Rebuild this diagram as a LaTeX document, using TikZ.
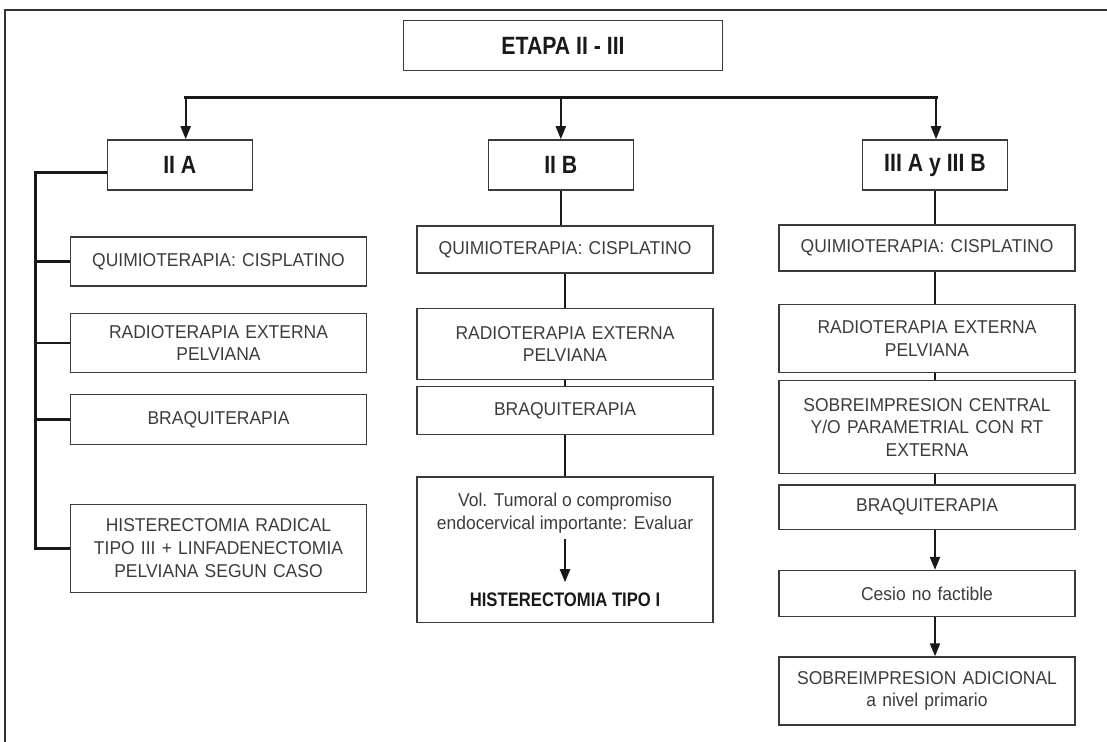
\documentclass[tikz,border=0pt]{standalone}
\usepackage{fontspec}
\setmainfont{Liberation Sans}
\newfontfamily\stepfont{Liberation Sans}[FakeStretch=0.94]
\newfontfamily\headfont{Liberation Sans}[FakeStretch=0.85]
\usepackage{tikz}
\usetikzlibrary{arrows.meta}
\usetikzlibrary{positioning}
\definecolor{boxgray}{HTML}{3A3A3A}
\definecolor{txtgray}{HTML}{3C3C3C}
\tikzstyle{headbox} = [draw=boxgray, line width=0.8pt, inner sep=0pt,
minimum height=25pt, font=\headfont\bfseries\fontsize{12.5}{14}\selectfont, text=black!90]
\tikzstyle{stepbox} = [draw=boxgray, line width=0.7pt, inner xsep=3pt, inner ysep=0pt,
text width=142pt, align=center, font=\stepfont\fontsize{9.3}{11.35}\selectfont, text=txtgray]

\begin{document}
\begin{tikzpicture}[x=0.5pt, y=-0.5pt]

\tikzstyle{link} = [line width=1pt, draw=black!90]
\tikzstyle{arrow} = [link, -{Triangle[length=6.5pt, width=5pt]}]

\useasboundingbox (0,0) rectangle (1107,742);

% frame
\coordinate (frametr) at (1107,10);
\coordinate (framebl) at (5,742);
\draw[line width=1pt, draw=black!80] (frametr) -| (framebl);

\node[headbox, minimum width=159.5pt] (etapa) at (563,45.7) {ETAPA II - III};
\node[headbox, minimum width=72.5pt] (iia) at (179.8,165) {II A};
\node[headbox, minimum width=72.5pt] (iib) at (560.8,165) {II B};
\node[headbox, minimum width=72.5pt] (iii) at (935,165) {III A y III B};

\coordinate (busl) at (185.7,97.7);
\coordinate (busr) at (936,97.7);
\draw[link, line width=1.6pt, line cap=rect] (busl) -- (busr);
\draw[arrow] (busl) -- (busl |- iia.north);
\draw[arrow] (iib.north |- busl) -- (iib.north);
\draw[arrow] (busr) -- (busr |- iii.north);

% II A
\node[stepbox, minimum height=24.5pt] (a1) at (218.5,261.5) {QUIMIOTERAPIA: CISPLATINO};
\node[stepbox, minimum height=29.5pt, below=13pt of a1] (a2) {RADIOTERAPIA EXTERNA\\PELVIANA};
\node[stepbox, minimum height=25pt, below=10.5pt of a2] (a3) {BRAQUITERAPIA};
\node[stepbox, minimum height=44pt, below=29pt of a3] (a4) {HISTERECTOMIA RADICAL\\TIPO III + LINFADENECTOMIA\\PELVIANA SEGUN CASO};

\coordinate (spine) at (35.7,172.3);
\draw[link, line width=1.3pt] (iia.west |- spine) -- (spine) |- (a4.west);
\foreach \n in {a1,a2,a3}
  \draw[link, line width=1.3pt] (spine |- \n.west) -- (\n.west);

% II B
\node[stepbox, minimum height=23.5pt] (b1) at (565,249.5) {QUIMIOTERAPIA: CISPLATINO};
\node[stepbox, minimum height=35.5pt, below=17pt of b1] (b2) {RADIOTERAPIA EXTERNA\\PELVIANA};
\node[stepbox, minimum height=24pt, below=3pt of b2] (b3) {BRAQUITERAPIA};
\node[stepbox, minimum height=72.5pt, below=20.5pt of b3] (b4) {};
\node[inner sep=0pt, align=center, font=\stepfont\fontsize{9.3}{11.35}\selectfont, text=txtgray,
  below=8pt of b4.north] (vol) {Vol. Tumoral o compromiso\\endocervical importante: Evaluar};
\node[inner sep=0pt, font=\headfont\bfseries\fontsize{9.8}{11}\selectfont, text=black!90,
  above=8pt of b4.south] (hist1) {HISTERECTOMIA TIPO I};
\draw[arrow, shorten <=3pt, shorten >=5pt] (vol) -- (hist1);

\draw[link] (iib.south) -- (iib.south |- b1.north);
\foreach \u/\v in {b1/b2, b2/b3, b3/b4}
  \draw[link] (\u) -- (\v);

% III A y III B
\node[stepbox, minimum height=23pt] (c1) at (927,248) {QUIMIOTERAPIA: CISPLATINO};
\node[stepbox, minimum height=34pt, below=16pt of c1] (c2) {RADIOTERAPIA EXTERNA\\PELVIANA};
\node[stepbox, minimum height=46.5pt, below=3.5pt of c2] (c3) {SOBREIMPRESION CENTRAL\\Y/O PARAMETRIAL CON RT\\EXTERNA};
\node[stepbox, minimum height=22pt, below=5pt of c3] (c4) {BRAQUITERAPIA};
\node[stepbox, minimum height=23pt, below=20pt of c4] (c5) {Cesio no factible};
\node[stepbox, minimum height=34pt, below=19.5pt of c5] (c6) {SOBREIMPRESION ADICIONAL\\a nivel primario};

\draw[link] (iii.south) -- (iii.south |- c1.north);
\foreach \u/\v in {c1/c2, c2/c3, c3/c4}
  \draw[link] (iii.south |- \u.south) -- (iii.south |- \v.north);
\foreach \u/\v in {c4/c5, c5/c6}
  \draw[arrow] (iii.south |- \u.south) -- (iii.south |- \v.north);

\end{tikzpicture}
\end{document}
